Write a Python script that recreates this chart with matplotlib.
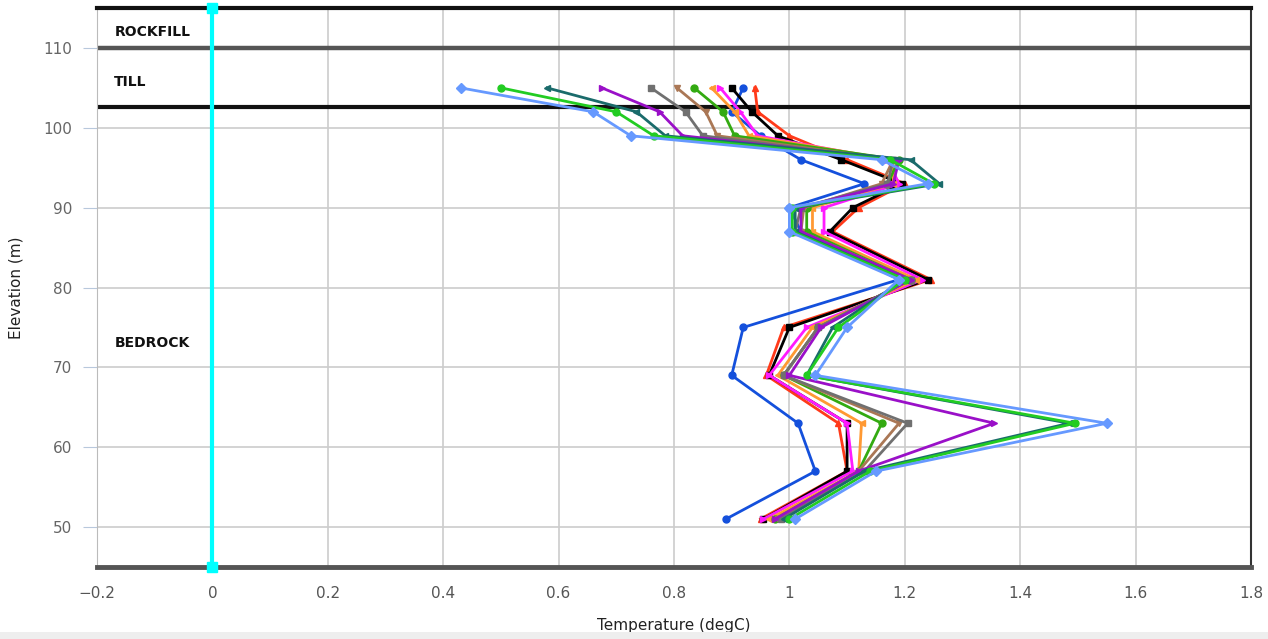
import matplotlib.pyplot as plt
from matplotlib.patches import Rectangle

# elevations of the thermistor beads (m)
elevation = [105, 102, 99, 96, 93, 90, 87, 81, 75, 69, 63, 57, 51]

# temperature profiles (degC), one list per reading
red_t = [0.94, 0.945, 1.00, 1.10, 1.20, 1.12, 1.075, 1.245, 0.99, 0.96, 1.085, 1.10, 0.95]
darkblue_t = [0.92, 0.90, 0.95, 1.02, 1.13, 1.00, 1.02, 1.19, 0.92, 0.90, 1.015, 1.045, 0.89]
black_t = [0.90, 0.935, 0.98, 1.09, 1.195, 1.11, 1.07, 1.24, 1.00, 0.965, 1.10, 1.10, 0.955]
magenta_t = [0.88, 0.915, 0.945, 1.17, 1.19, 1.06, 1.06, 1.23, 1.03, 0.965, 1.10, 1.11, 0.955]
orange_t = [0.865, 0.905, 0.93, 1.18, 1.18, 1.04, 1.04, 1.22, 1.04, 0.98, 1.125, 1.12, 0.965]
darkgreen_t = [0.835, 0.885, 0.905, 1.19, 1.17, 1.03, 1.03, 1.21, 1.05, 0.99, 1.16, 1.12, 0.975]
brown_t = [0.805, 0.855, 0.875, 1.18, 1.16, 1.025, 1.02, 1.21, 1.05, 0.99, 1.19, 1.12, 0.98]
gray_t = [0.76, 0.82, 0.85, 1.18, 1.17, 1.02, 1.01, 1.21, 1.05, 0.99, 1.205, 1.13, 0.985]
purple_t = [0.675, 0.775, 0.815, 1.19, 1.18, 1.02, 1.02, 1.21, 1.055, 1.00, 1.355, 1.12, 0.975]
teal_t = [0.58, 0.735, 0.785, 1.21, 1.26, 1.01, 1.01, 1.20, 1.075, 1.03, 1.485, 1.13, 0.99]
green_t = [0.50, 0.70, 0.765, 1.175, 1.25, 1.005, 1.005, 1.20, 1.085, 1.03, 1.495, 1.14, 1.00]
lightblue_t = [0.43, 0.66, 0.725, 1.16, 1.24, 1.00, 1.00, 1.19, 1.10, 1.045, 1.55, 1.15, 1.01]

series = [
    (red_t, '#ff3a1a', '^'),
    (darkblue_t, '#1450dc', 'o'),
    (black_t, '#000000', 's'),
    (magenta_t, '#ff1aff', '>'),
    (orange_t, '#ff9933', '<'),
    (darkgreen_t, '#33aa11', 'o'),
    (brown_t, '#aa7755', 'v'),
    (gray_t, '#707070', 's'),
    (purple_t, '#9a10c8', '>'),
    (teal_t, '#1a6b6b', '<'),
    (green_t, '#22cc22', 'o'),
    (lightblue_t, '#6699ff', 'D'),
]

layer_names = ['ROCKFILL', 'TILL', 'BEDROCK']
layer_label_elev = [112, 105.7, 73]

fig = plt.figure(figsize=(12.68, 6.39), dpi=100)
ax = fig.add_axes([97 / 1268, 1 - 567 / 639, (1251 - 97) / 1268, (567 - 8) / 639])

ax.set_xlim(-0.2, 1.8)
ax.set_ylim(45, 115)
ax.set_xticks([-0.2, 0, 0.2, 0.4, 0.6, 0.8, 1, 1.2, 1.4, 1.6, 1.8])
ax.set_xticklabels(['\u22120.2', '0', '0.2', '0.4', '0.6', '0.8', '1', '1.2', '1.4', '1.6', '1.8'])
ax.set_yticks([50, 60, 70, 80, 90, 100, 110])
ax.grid(True, color='#cccccc', linewidth=1.2)
ax.set_axisbelow(True)

ax.tick_params(axis='x', length=0, pad=14, labelsize=11, labelcolor='#555555')
ax.tick_params(axis='y', length=10, color='#b8c8dc', pad=8, labelsize=11, labelcolor='#666666')

ax.spines['left'].set_color('#bbbbbb')
ax.spines['right'].set_color('#333333')
ax.spines['right'].set_linewidth(1.5)
ax.spines['top'].set_color('#111111')
ax.spines['top'].set_linewidth(3)
ax.spines['bottom'].set_color('#555555')
ax.spines['bottom'].set_linewidth(3.5)

# layer boundaries
ax.axhline(110, color='#555555', linewidth=3.2, zorder=2)
ax.axhline(102.6, color='#111111', linewidth=3, zorder=2)

for name, el in zip(layer_names, layer_label_elev):
    ax.text(0.015, el, name, transform=ax.get_yaxis_transform(), fontsize=10,
            fontweight='bold', color='#111111', va='center', ha='left')

# reference line at 0 degC
ax.plot([0, 0], [45, 115], color='#00ffff', linewidth=3, zorder=3, clip_on=False)
ax.plot([0, 0], [45, 115], color='#00ffff', linestyle='none', marker='s',
        markersize=7, zorder=3, clip_on=False)

for temps, color, marker in series:
    ax.plot(temps, elevation, color=color, marker=marker, markersize=5,
            linewidth=2, zorder=4)

ax.set_xlabel('Temperature (degC)', fontsize=11, color='#222222', labelpad=12)
ax.set_ylabel('Elevation (m)', fontsize=11, color='#222222', labelpad=14)

# light strip along the bottom edge
fig.patches.append(Rectangle((0, 0), 1, 7 / 639, transform=fig.transFigure,
                             facecolor='#eeeeee', edgecolor='none'))

fig.savefig('out.png', dpi=100)
